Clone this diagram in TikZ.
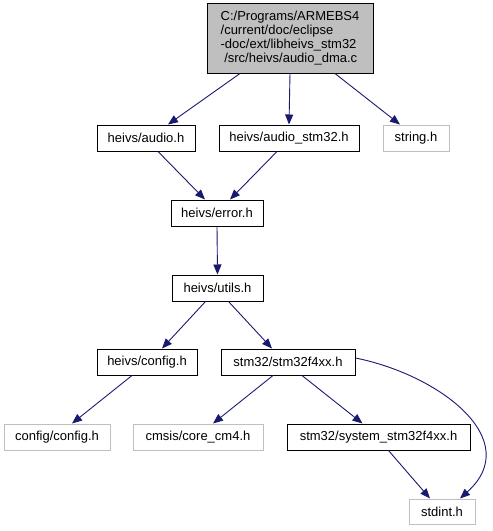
\documentclass[tikz,border=0pt]{standalone}
\usepackage{fontspec}
\setmainfont{Liberation Sans}
\usetikzlibrary{arrows.meta,calc}
\definecolor{edgeblue}{HTML}{191970}
\definecolor{boxgray}{HTML}{BFBFBF}
\begin{document}
\begin{tikzpicture}[x=1pt,y=-1pt,
  every node/.style={font=\fontsize{13}{14}\selectfont, inner sep=0pt, line width=1pt},
  dark/.style={draw=black, fill=white},
  light/.style={draw=boxgray, fill=white},
  edge/.style={draw=edgeblue, line width=0.9pt, -{Triangle[length=10pt,width=8pt]}}]
\useasboundingbox (0,0) rectangle (493,531);
\fill[white] (0,0) rectangle (493,531);
\node[draw=black, fill=boxgray, minimum width=166, minimum height=70, align=left] (top) at (290,38)
  {C:/Programs/ARMEBS4\\/current/doc/eclipse\\-doc/ext/libheivs\_stm32\\\ /src/heivs/audio\_dma.c};
\node[dark, minimum width=98, minimum height=26] (audio) at (146,138) {heivs/audio.h};
\node[dark, minimum width=140, minimum height=26] (astm) at (289,138) {heivs/audio\_stm32.h};
\node[light, minimum width=66, minimum height=26] (string) at (416,138) {string.h};
\node[dark, minimum width=92, minimum height=26] (error) at (217,213) {heivs/error.h};
\node[dark, minimum width=91, minimum height=26] (utils) at (217.5,288) {heivs/utils.h};
\node[dark, minimum width=100, minimum height=26] (config) at (147,362) {heivs/config.h};
\node[dark, minimum width=134, minimum height=26] (f4) at (288,362) {stm32/stm32f4xx.h};
\node[light, minimum width=106, minimum height=26] (cc) at (57,437) {config/config.h};
\node[light, minimum width=130, minimum height=26] (cmsis) at (198,437) {cmsis/core\_cm4.h};
\node[dark, minimum width=183, minimum height=26] (sys) at (378.5,437) {stm32/system\_stm32f4xx.h};
\node[light, minimum width=66, minimum height=25] (stdint) at (442,511.5) {stdint.h};
\draw[edge] ([xshift=-50pt]top.south) -- ([xshift=22pt]audio.north);
\draw[edge] (top.south) -- (astm.north);
\draw[edge] ([xshift=45pt]top.south) -- ([xshift=-16pt]string.north);
\draw[edge] ([xshift=12pt]audio.south) -- ([xshift=-12pt]error.north);
\draw[edge] ([xshift=-12pt]astm.south) -- ([xshift=13pt]error.north);
\draw[edge] (error.south) -- (utils.north);
\draw[edge] ([xshift=-12pt]utils.south) -- ([xshift=15pt]config.north);
\draw[edge] ([xshift=11pt]utils.south) -- ([xshift=-16pt]f4.north);
\draw[edge] ([xshift=-15pt]config.south) -- ([xshift=15pt]cc.north);
\draw[edge] ([xshift=-15pt]f4.south) -- ([xshift=15pt]cmsis.north);
\draw[edge] ([xshift=14pt]f4.south) -- ([xshift=-16pt]sys.north);
\draw[edge] ([xshift=10pt]sys.south) -- ([xshift=-12pt]stdint.north);
\draw[edge] ([yshift=4pt]f4.east) .. controls (440,375) and (525,440) .. ([xshift=18pt]stdint.north);
\end{tikzpicture}
\end{document}
